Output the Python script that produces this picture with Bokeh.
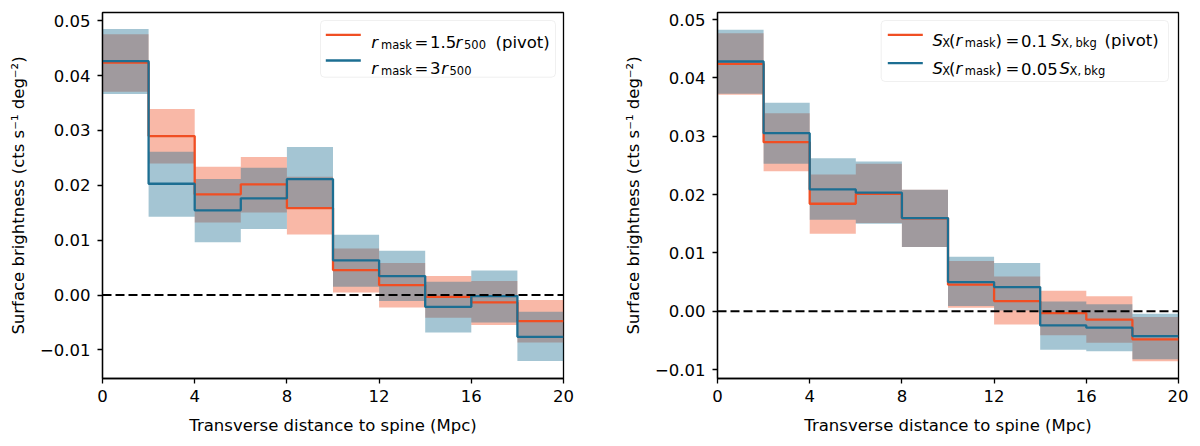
from bokeh.plotting import figure
from bokeh.models import Range1d, FixedTicker, CustomJSTickFormatter, Span, BoxAnnotation, Label
from bokeh.layouts import row
from bokeh.embed import file_html
from bokeh.resources import INLINE

# bin edges (Mpc) and ticks
edges = [0, 2, 4, 6, 8, 10, 12, 14, 16, 18, 20]
x_ticks = [0, 4, 8, 12, 16, 20]
y_ticks = [-0.01, 0.0, 0.01, 0.02, 0.03, 0.04, 0.05]

# left panel: r_mask = 1.5 r500 (pivot) vs 3 r500
left_pivot = [0.04235, 0.02898, 0.01836, 0.02018, 0.01586, 0.00456, 0.00182, -0.00031, -0.00133, -0.00474]
left_pivot_lo = [0.03706, 0.02400, 0.01325, 0.01507, 0.01106, 0.00049, -0.00224, -0.00414, -0.00547, -0.00862]
left_pivot_hi = [0.04752, 0.03390, 0.02339, 0.02515, 0.02156, 0.00851, 0.00583, 0.00346, 0.00255, -0.00091]
left_alt = [0.04265, 0.02029, 0.01544, 0.01763, 0.02114, 0.00633, 0.00346, -0.00213, -0.00018, -0.00760]
left_alt_lo = [0.03664, 0.01427, 0.00961, 0.01203, 0.01599, 0.00151, -0.00109, -0.00680, -0.00498, -0.01203]
left_alt_hi = [0.04849, 0.02612, 0.02114, 0.02320, 0.02698, 0.01099, 0.00808, 0.00242, 0.00450, -0.00304]

# right panel: S_X(r_mask) = 0.1 S_X,bkg (pivot) vs 0.05 S_X,bkg
right_pivot = [0.04241, 0.02899, 0.01844, 0.02015, 0.01595, 0.00457, 0.00176, -0.00029, -0.00142, -0.00479]
right_pivot_lo = [0.03711, 0.02402, 0.01330, 0.01512, 0.01101, 0.00063, -0.00223, -0.00411, -0.00536, -0.00856]
right_pivot_hi = [0.04765, 0.03396, 0.02346, 0.02529, 0.02084, 0.00861, 0.00599, 0.00354, 0.00257, -0.00098]
right_alt = [0.04281, 0.03053, 0.02089, 0.02033, 0.01598, 0.00502, 0.00416, -0.00240, -0.00279, -0.00423]
right_alt_lo = [0.03728, 0.02529, 0.01570, 0.01502, 0.01101, 0.00091, 0.00017, -0.00656, -0.00685, -0.00822]
right_alt_hi = [0.04824, 0.03574, 0.02625, 0.02568, 0.02084, 0.00937, 0.00827, 0.00171, 0.00120, -0.00039]

RED = "#F04E23"
BLUE = "#1C6E92"
FONT = "DejaVu Sans"
FS = "16.5px"
FS_SUB = "11.5px"


def stairs(vals):
    return edges, list(vals) + [vals[-1]]


def band(lo, hi):
    xs, y1, y2 = [], [], []
    for i in range(len(lo)):
        xs += [edges[i], edges[i + 1]]
        y1 += [lo[i], lo[i]]
        y2 += [hi[i], hi[i]]
    return xs, y1, y2


def make_panel(geom, pivot, pivot_lo, pivot_hi, alt, alt_lo, alt_hi, borders):
    bl, br = borders
    p = figure(width=bl + geom["fw"] + br, height=438,
               x_range=Range1d(0, 20), y_range=Range1d(geom["ylo"], geom["yhi"]),
               output_backend="svg", toolbar_location=None,
               min_border_left=bl, min_border_right=br, min_border_top=12, min_border_bottom=60)
    p.xgrid.visible = False
    p.ygrid.visible = False
    p.outline_line_color = "black"
    p.outline_line_width = 1.3
    p.outline_line_alpha = 1.0

    for lo, hi, c in ((pivot_lo, pivot_hi, RED), (alt_lo, alt_hi, BLUE)):
        bx, by1, by2 = band(lo, hi)
        p.varea(x=bx, y1=by1, y2=by2, fill_color=c, fill_alpha=0.4)
    for vals, c in ((pivot, RED), (alt, BLUE)):
        sx, sy = stairs(vals)
        p.step(sx, sy, mode="after", line_color=c, line_width=2.3)

    p.add_layout(Span(location=0, dimension="width", line_color="black",
                      line_width=2, line_dash="9 4"))

    p.xaxis.ticker = FixedTicker(ticks=x_ticks)
    p.yaxis.ticker = FixedTicker(ticks=y_ticks)
    p.yaxis.formatter = CustomJSTickFormatter(
        code="return (tick < -1e-9 ? '\u2212' : '') + Math.abs(tick).toFixed(2);")
    p.xaxis.axis_label = "Transverse distance to spine (Mpc)"
    p.yaxis.axis_label = "Surface brightness (cts s\u207b\u00b9 deg\u207b\u00b2)"
    for ax in (p.xaxis, p.yaxis):
        ax.major_label_text_font = FONT
        ax.major_label_text_font_size = FS
        ax.major_label_text_color = "black"
        ax.axis_label_text_font = FONT
        ax.axis_label_text_font_size = FS
        ax.axis_label_text_font_style = "normal"
        ax.axis_label_text_color = "black"
        ax.minor_tick_line_color = None
        ax.major_tick_in = 0
        ax.major_tick_out = 5
        ax.major_tick_line_width = 1.3
        ax.major_tick_line_color = "black"
        ax.axis_line_width = 1.3
        ax.axis_line_color = "black"
    p.xaxis.major_label_standoff = 6
    p.xaxis.axis_label_standoff = 11
    p.yaxis.major_label_standoff = 7
    p.yaxis.axis_label_standoff = 9
    return p


def to_data(geom, xp, yp):
    x = (xp - geom["fx"]) / geom["fw"] * 20
    y = geom["yhi"] - (yp - geom["fy"]) / geom["fh"] * (geom["yhi"] - geom["ylo"])
    return x, y


def draw_legend(p, geom, box, handles, rows):
    l, t, r, b = box
    x0, y0 = to_data(geom, l, t)
    x1, y1 = to_data(geom, r, b)
    p.add_layout(BoxAnnotation(left=x0, right=x1, top=y0, bottom=y1,
                               fill_color="white", fill_alpha=0.8,
                               line_color="#cccccc", line_width=1, border_radius=4))
    for c, hx0, hx1, hy in handles:
        a = to_data(geom, hx0, hy)
        z = to_data(geom, hx1, hy)
        p.line([a[0], z[0]], [a[1], z[1]], line_color=c, line_width=2.3, level="overlay")
    for base, pieces in rows:
        for txt, xp, kind in pieces:
            size = FS_SUB if kind == "s" else FS
            yy = base + 2.5 if kind == "s" else base
            dx, dy = to_data(geom, xp, yy)
            p.add_layout(Label(x=dx, y=dy, text=txt, text_font=FONT, text_font_size=size,
                               text_font_style="italic" if kind == "i" else "normal",
                               text_baseline="alphabetic", text_align="left",
                               text_color="black"))


left_geom = dict(fx=102, fy=12, fw=461, fh=366, ylo=-0.0152, yhi=0.0515)
right_geom = dict(fx=717, fy=12, fw=461, fh=366, ylo=-0.0115, yhi=0.0512)

p1 = make_panel(left_geom, left_pivot, left_pivot_lo, left_pivot_hi,
                left_alt, left_alt_lo, left_alt_hi, (102, 39))
p2 = make_panel(right_geom, right_pivot, right_pivot_lo, right_pivot_hi,
                right_alt, right_alt_lo, right_alt_hi, (115, 10))

draw_legend(p1, left_geom, (320, 20, 555, 76.7),
            [(RED, 325.3, 360.3, 34.3), (BLUE, 325.3, 360.3, 60.0)],
            [(41.8, [("r", 370.8, "i"), ("mask", 380.5, "s"), ("=", 414.0, "n"),
                     ("1.5", 429.5, "n"), ("r", 455.0, "i"), ("500", 463.5, "s"),
                     ("(pivot)", 495.0, "n")]),
             (67.6, [("r", 370.8, "i"), ("mask", 380.5, "s"), ("=", 414.0, "n"),
                     ("3", 429.5, "n"), ("r", 440.8, "i"), ("500", 449.0, "s")])])

draw_legend(p2, right_geom, (880.7, 20, 1168, 81),
            [(RED, 887.3, 922.3, 34.3), (BLUE, 887.3, 922.3, 62.7)],
            [(40.3, [("S", 932.0, "i"), ("X", 941.8, "s"), ("(", 948.5, "n"),
                     ("r", 955.0, "i"), ("mask", 964.3, "s"), (")", 995.0, "n"),
                     ("=", 1005.0, "n"), ("0.1", 1020.5, "n"), ("S", 1050.5, "i"),
                     ("X,", 1060.5, "s"), ("bkg", 1075.0, "s"), ("(pivot)", 1104.0, "n")]),
             (68.3, [("S", 932.0, "i"), ("X", 941.8, "s"), ("(", 948.5, "n"),
                     ("r", 955.0, "i"), ("mask", 964.3, "s"), (")", 995.0, "n"),
                     ("=", 1005.0, "n"), ("0.05", 1020.5, "n"), ("S", 1059.0, "i"),
                     ("X,", 1069.0, "s"), ("bkg", 1083.5, "s")])])

layout = row(p1, p2)
open("out.html", "w", encoding="utf-8").write(file_html(layout, INLINE))
